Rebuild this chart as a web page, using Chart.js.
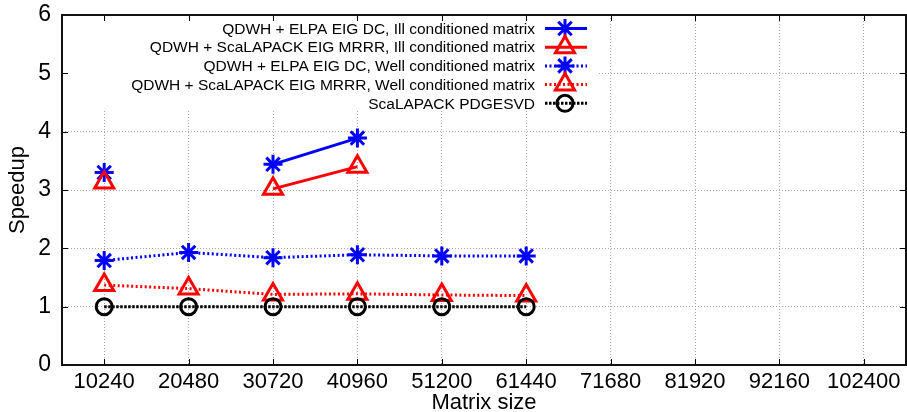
<!DOCTYPE html>
<html>
<head>
<meta charset="utf-8">
<script src="https://cdn.jsdelivr.net/npm/chart.js@4.4.0/dist/chart.umd.min.js"></script>
<style>
  html, body { margin: 0; padding: 0; background: #fff; }
  #wrap { width: 907px; height: 412px; }
</style>
</head>
<body>
<div id="wrap"><canvas id="c" width="907" height="412"></canvas></div>
<script>
// Matrix sizes that were measured
const matrixSizes = [10240, 20480, 30720, 40960, 51200, 61440];
// Axis tick labels
const xTickValues = [10240, 20480, 30720, 40960, 51200, 61440, 71680, 81920, 92160, 102400];
const yTickValues = [0, 1, 2, 3, 4, 5, 6];

const seriesLabels = [
  'QDWH + ELPA EIG DC, Ill conditioned matrix',
  'QDWH + ScaLAPACK EIG MRRR, Ill conditioned matrix',
  'QDWH + ELPA EIG DC, Well conditioned matrix',
  'QDWH + ScaLAPACK EIG MRRR, Well conditioned matrix',
  'ScaLAPACK PDGESVD'
];

// Speedup over ScaLAPACK PDGESVD (null = not measured)
const elpaIll   = [3.30, null, 3.44, 3.89, null, null];
const mrrrIll   = [3.13, null, 3.02, 3.40, null, null];
const elpaWell  = [1.79, 1.93, 1.84, 1.89, 1.87, 1.87];
const mrrrWell  = [1.37, 1.31, 1.21, 1.22, 1.20, 1.19];
const pdgesvd   = [1.00, 1.00, 1.00, 1.00, 1.00, 1.00];

const FONT = "'Liberation Sans', Arial, Helvetica, sans-serif";

function pts(values) {
  return matrixSizes.map((x, i) => ({ x: x, y: values[i] }));
}

const styles = [
  { color: '#0000ff', style: 'star',     radius: 9.5, dash: [] },
  { color: '#ff0000', style: 'triangle', radius: 11,  dash: [] },
  { color: '#0000ff', style: 'star',     radius: 9.5, dash: [2, 2.5] },
  { color: '#ff0000', style: 'triangle', radius: 11,  dash: [2, 2.5] },
  { color: '#000000', style: 'circle',   radius: 8,   dash: [2.5, 1.5] }
];
const seriesData = [elpaIll, mrrrIll, elpaWell, mrrrWell, pdgesvd];

const datasets = seriesData.map((vals, i) => ({
  label: seriesLabels[i],
  data: pts(vals),
  borderColor: styles[i].color,
  backgroundColor: 'rgba(0,0,0,0)',
  borderWidth: 3,
  borderDash: styles[i].dash,
  pointStyle: styles[i].style,
  pointRadius: styles[i].radius,
  pointBorderWidth: 3,
  pointBorderColor: styles[i].color,
  pointBackgroundColor: 'rgba(0,0,0,0)',
  spanGaps: false,
  tension: 0,
  order: -i
}));

// Opaque key box, inward ticks on all four sides, frame and the key itself
const framePlugin = {
  id: 'frameAndKey',
  beforeDatasetsDraw(chart) {
    const { ctx, chartArea: a, scales } = chart;
    const xs = scales.x, ys = scales.y;
    ctx.save();
    ctx.fillStyle = '#ffffff';
    ctx.fillRect(68, 16, 529, 95);
    ctx.strokeStyle = '#000';
    ctx.lineWidth = 1;
    ctx.setLineDash([]);
    ctx.beginPath();
    xTickValues.forEach(v => {
      const px = Math.round(xs.getPixelForValue(v)) + 0.5;
      ctx.moveTo(px, a.top); ctx.lineTo(px, a.top + 6);
      ctx.moveTo(px, a.bottom); ctx.lineTo(px, a.bottom - 6);
    });
    yTickValues.slice(1, -1).forEach(v => {
      const py = Math.round(ys.getPixelForValue(v)) + 0.5;
      ctx.moveTo(a.left, py); ctx.lineTo(a.left + 6, py);
      ctx.moveTo(a.right, py); ctx.lineTo(a.right - 6, py);
    });
    ctx.stroke();
    ctx.lineWidth = 2;
    ctx.strokeStyle = '#111';
    ctx.strokeRect(a.left, a.top, a.right - a.left, a.bottom - a.top);
    ctx.restore();
  },
  afterDraw(chart) {
    const ctx = chart.ctx;
    const rowY = [28.5, 47.2, 65.9, 84.6, 103.3];
    const textRight = 535, lineL = 545, lineR = 587, markX = 565;
    ctx.save();
    ctx.font = '15.5px ' + FONT;
    ctx.textAlign = 'right';
    ctx.textBaseline = 'middle';
    chart.data.datasets.forEach((ds, i) => {
      const y = rowY[i];
      ctx.fillStyle = '#000';
      ctx.fillText(ds.label, textRight, y + 1);
      ctx.strokeStyle = ds.borderColor;
      ctx.lineWidth = 3;
      ctx.setLineDash(ds.borderDash);
      ctx.beginPath();
      ctx.moveTo(lineL, y); ctx.lineTo(lineR, y);
      ctx.stroke();
      ctx.setLineDash([]);
      ctx.fillStyle = 'rgba(0,0,0,0)';
      Chart.helpers.drawPoint(ctx, {
        pointStyle: ds.pointStyle, radius: ds.pointRadius, rotation: 0, borderWidth: 3
      }, markX, y);
    });
    ctx.restore();
  }
};

new Chart(document.getElementById('c'), {
  type: 'line',
  data: { datasets: datasets },
  plugins: [framePlugin],
  options: {
    responsive: false,
    animation: false,
    devicePixelRatio: 1,
    layout: { autoPadding: false, padding: { top: 15, right: 1, left: 0, bottom: 0 } },
    plugins: { legend: { display: false }, tooltip: { enabled: false } },
    scales: {
      x: {
        type: 'linear',
        min: 5120,
        max: 107520,
        afterBuildTicks: s => { s.ticks = xTickValues.map(v => ({ value: v })); },
        afterFit: s => { s.height = 47; s.paddingLeft = 0; s.paddingRight = 0; },
        ticks: {
          color: '#000',
          padding: 4,
          autoSkip: false,
          maxRotation: 0,
          font: { family: FONT, size: 22 },
          callback: v => String(v)
        },
        grid: { color: '#a8a8a8', lineWidth: 1, drawTicks: false },
        border: { display: false, dash: [1, 2] },
        title: {
          display: true, text: 'Matrix size', color: '#000',
          font: { family: FONT, size: 22, lineHeight: 1 },
          padding: { top: 0, bottom: -2 }
        }
      },
      y: {
        min: 0,
        max: 6,
        afterBuildTicks: s => { s.ticks = yTickValues.map(v => ({ value: v })); },
        afterFit: s => { s.width = 62; s.paddingTop = 0; s.paddingBottom = 0; },
        ticks: {
          color: '#000',
          padding: 11,
          font: { family: FONT, size: 23 },
          callback: v => String(v)
        },
        grid: { color: '#a8a8a8', lineWidth: 1, drawTicks: false },
        border: { display: false, dash: [1, 2] },
        title: {
          display: true, text: 'Speedup', color: '#000',
          font: { family: FONT, size: 22, lineHeight: 1 },
          padding: { top: 7, bottom: 0 }
        }
      }
    }
  }
});
</script>
</body>
</html>
